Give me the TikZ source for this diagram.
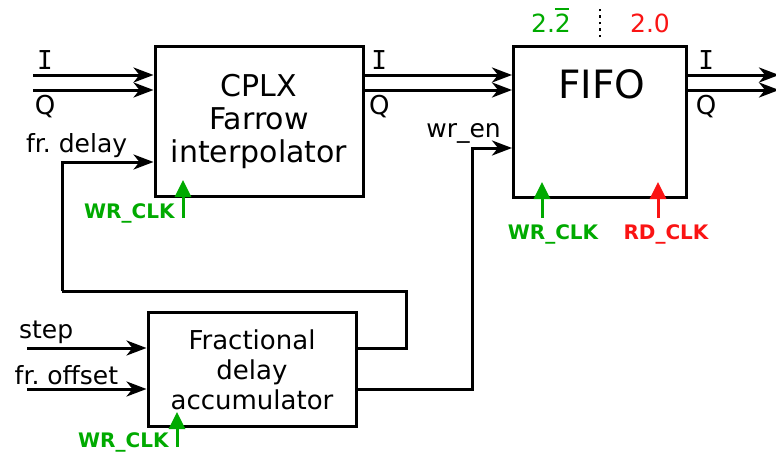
\documentclass[tikz,border=0pt]{standalone}
\usepackage{fontspec}
\setmainfont{DejaVu Sans}
\newfontfamily\iqfont{DejaVu Sans Mono}
\usepackage{tikz}
\usetikzlibrary{arrows.meta,positioning}
\definecolor{clkgreen}{RGB}{0,170,0}
\definecolor{clkred}{RGB}{250,20,20}

\begin{document}
\begin{tikzpicture}[x=1pt,y=-1pt,
  blk/.style={draw=black,line width=3pt,align=center,inner sep=0pt},
  sig/.style={line width=3pt,-{Stealth[length=20pt,width=15pt,inset=6pt]}},
  clk/.style={line width=3pt,-{Triangle[length=17pt,width=16pt]}},
  lbl/.style={font=\fontsize{25}{28}\selectfont,inner sep=3pt},
  iq/.style={font=\fontsize{26}{28}\selectfont,inner sep=4pt},
  clklbl/.style={font=\fontsize{20}{24}\selectfont\bfseries,inner sep=0pt}]
\useasboundingbox (0,0) rectangle (776,452);

% blocks
\node[blk,minimum width=208pt,minimum height=149pt,font=\fontsize{30}{33}\selectfont] (farrow) at (259,121.5) {CPLX\\Farrow\\interpolator};
\node[blk,minimum width=173pt,minimum height=150pt] (fifo) at (600,122) {};
\node[anchor=base,font=\fontsize{39}{44}\selectfont,inner sep=0pt] (fifotxt) at (602,98) {FIFO};
\node[blk,minimum width=208pt,minimum height=114pt,font=\fontsize{26}{30}\selectfont] (acc) at (252,369.5) {Fractional\\delay\\accumulator};

% free ends
\coordinate (inI) at (33,75);
\coordinate (inQ) at (33,90);
\coordinate (outI) at (779,75);
\coordinate (outQ) at (779,90);
\coordinate (inStep) at (27,348);
\coordinate (inOff) at (27,389);
\coordinate (fbR) at (406,291);
\coordinate (fbL) at (62,291);
\coordinate (wrT) at (472,148);

% I/Q paths
\draw[sig] (inI) -- node[iq,above,pos=0.1] {\iqfont I} (inI -| farrow.west);
\draw[sig] (inQ) -- node[iq,below,pos=0.1] {Q} (inQ -| farrow.west);
\draw[sig] (farrow.east |- inI) -- node[iq,above,pos=0.1] {\iqfont I} (fifo.west |- inI);
\draw[sig] (farrow.east |- inQ) -- node[iq,below,pos=0.1] {Q} (fifo.west |- inQ);
\draw[sig] (fifo.east |- inI) -- node[iq,above,pos=0.2] {\iqfont I} (outI);
\draw[sig] (fifo.east |- inQ) -- node[iq,below,pos=0.2] {Q} (outQ);

% accumulator inputs
\draw[sig] (inStep) -- node[lbl,above,pos=0.16] {step} (inStep -| acc.west);
\draw[sig] (inOff) -- node[lbl,above,pos=0.33] {fr.\ offset} (inOff -| acc.west);

% feedback and write enable
\draw[line width=3pt] (acc.east |- inStep) -| (fbR) -- (fbL);
\draw[sig] (fbL) |- node[lbl,above,pos=0.58] {fr.\ delay} ([yshift=-40.5pt]farrow.west);
\draw[sig] (acc.east |- inOff) -| (wrT) -- (fifo.west |- wrT);
\node[lbl,anchor=base east,inner sep=0pt] (wren) at ([xshift=-11pt,yshift=11pt]fifo.west |- wrT) {wr\_en};

% clocks
\draw[clk,clkgreen] (183,218) node[clklbl,anchor=base east,xshift=-7pt] (wrclkA) {WR\_CLK} -- ++(0,-38);
\draw[clk,clkgreen] (177,447) node[clklbl,anchor=base east,xshift=-7pt] (wrclkB) {WR\_CLK} -- ++(0,-35);
\draw[clk,clkgreen] (542,218) node[clklbl,anchor=north,xshift=11pt,yshift=-5pt] (wrclkC) {WR\_CLK} -- ++(0,-36);
\draw[clk,clkred] (658,218) node[clklbl,anchor=north,xshift=8pt,yshift=-5pt] (rdclk) {RD\_CLK} -- ++(0,-36);

% rates
\draw[line width=2.5pt,dash pattern=on 2.5pt off 4pt] ([yshift=8pt]fifo.north) -- ([yshift=40pt]fifo.north);
\node[anchor=base,font=\fontsize{25}{28}\selectfont,text=clkgreen,inner sep=0pt] (wrrate) at (551,33) {2.\rlap{\rule[23pt]{14pt}{1.8pt}}2};
\node[anchor=base,font=\fontsize{25}{28}\selectfont,text=clkred,inner sep=0pt] (rdrate) at (650,33) {2.0};
\end{tikzpicture}
\end{document}
